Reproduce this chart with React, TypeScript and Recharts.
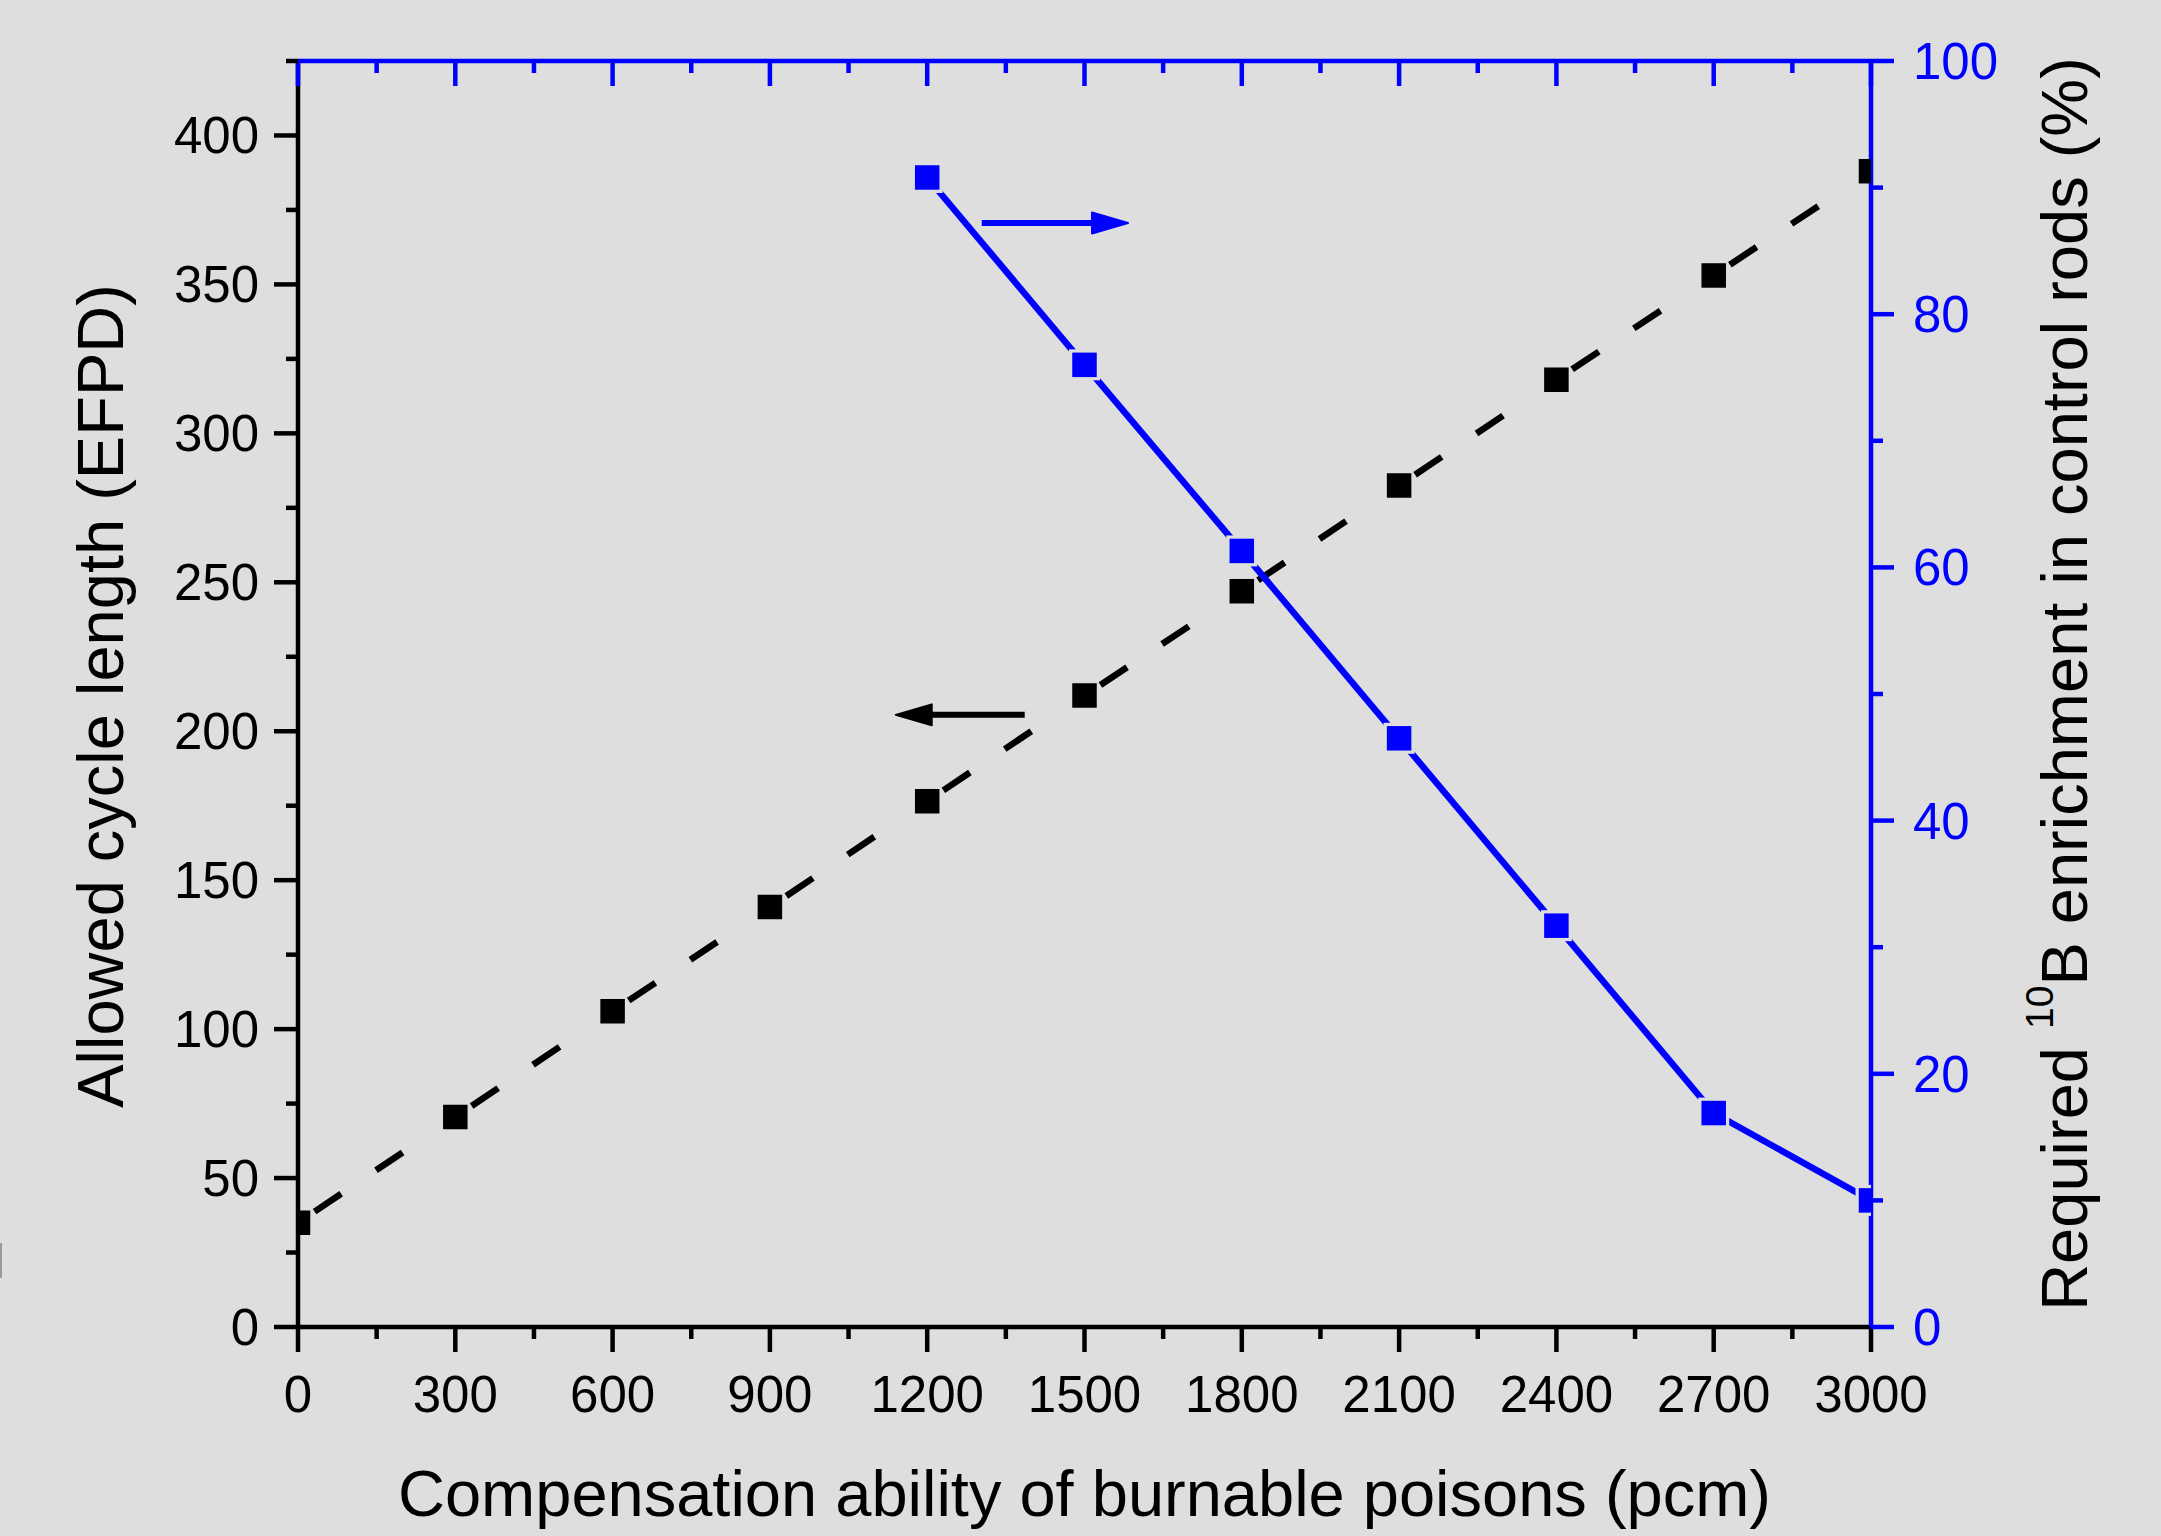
import React from "react";
import { ComposedChart, Line, XAxis, YAxis, ReferenceLine, Label } from "recharts";

// values
const compensation = [0, 300, 600, 900, 1200, 1500, 1800, 2100, 2400, 2700, 3000];
const cycleLength = [35, 70.5, 106, 141, 176.5, 212, 247, 282.5, 318, 353, 388];
const enrichment = [null, null, null, null, 90.8, 76, 61.3, 46.5, 31.7, 16.9, 10];

const xTicks = [
  0, 150, 300, 450, 600, 750, 900, 1050, 1200, 1350, 1500, 1650, 1800, 1950, 2100, 2250, 2400,
  2550, 2700, 2850, 3000,
];
const leftTicks = [
  0, 25, 50, 75, 100, 125, 150, 175, 200, 225, 250, 275, 300, 325, 350, 375, 400, 425,
];
const rightTicks = [0, 10, 20, 30, 40, 50, 60, 70, 80, 90, 100];

// arrows pointing to each series' axis
const leftArrow = [
  { x: 1386, y: 205.5 },
  { x: 1140, y: 205.5 },
];
const rightArrow = [
  { x: 1304, y: 87.2 },
  { x: 1583, y: 87.2 },
];

const rows = compensation.map((c, i) => ({
  c,
  len: cycleLength[i],
  enr: enrichment[i],
}));

const W = 2161;
const H = 1536;
const LEFT_W = 298;
const RIGHT_W = 290;
const TOP_H = 61;
const BOTTOM_H = 209;
const BG = "#dedede";
const BLUE = "#0000ff";
const FONT = "'Liberation Sans', Arial, Helvetica, sans-serif";
const AXIS_W = 4.5;

function BottomTick({ x, y, payload }: any) {
  const major = payload.value % 300 === 0;
  return (
    <g>
      <line x1={x} y1={y} x2={x} y2={y + (major ? 25 : 12)} stroke="#000" strokeWidth={AXIS_W} />
      {major && (
        <text x={x} y={y + 85} textAnchor="middle" fontFamily={FONT} fontSize={51} fill="#000">
          {payload.value}
        </text>
      )}
    </g>
  );
}

function TopTick({ x, y, payload }: any) {
  const major = payload.value % 300 === 0;
  return <line x1={x} y1={y} x2={x} y2={y + (major ? 25 : 12)} stroke={BLUE} strokeWidth={AXIS_W} />;
}

function LeftTick({ x, y, payload }: any) {
  const major = payload.value % 50 === 0;
  return (
    <g>
      <line x1={x} y1={y} x2={x - (major ? 24 : 12)} y2={y} stroke="#000" strokeWidth={AXIS_W} />
      {major && (
        <text x={x - 39} y={y + 18} textAnchor="end" fontFamily={FONT} fontSize={51} fill="#000">
          {payload.value}
        </text>
      )}
    </g>
  );
}

function RightTick({ x, y, payload }: any) {
  const major = payload.value % 20 === 0;
  return (
    <g>
      <line x1={x} y1={y} x2={x + (major ? 23 : 12)} y2={y} stroke={BLUE} strokeWidth={AXIS_W} />
      {major && (
        <text x={x + 42} y={y + 18} textAnchor="start" fontFamily={FONT} fontSize={51} fill={BLUE}>
          {payload.value}
        </text>
      )}
    </g>
  );
}

const arrowShape = (color: string) => (p: any) => {
  const { x1, y1, x2, y2 } = p;
  const dir = x2 > x1 ? 1 : -1;
  const back = x2 - dir * 36;
  return (
    <g>
      <line x1={x1} y1={y1} x2={back + dir * 4} y2={y2} stroke={color} strokeWidth={6} />
      <polygon
        points={`${x2},${y2} ${back},${y2 - 10.5} ${back},${y2 + 10.5}`}
        fill={color}
        stroke={color}
        strokeWidth={2}
        strokeLinejoin="round"
      />
    </g>
  );
};

const blackDot = (p: any) => {
  if (p.cy == null || p.value == null) return <g key={p.index} />;
  return <rect key={p.index} x={p.cx - 12.25} y={p.cy - 12.25} width={24.5} height={24.5} fill="#000" />;
};

const blueDot = (p: any) => {
  if (p.cy == null || p.value == null) return <g key={p.index} />;
  return (
    <g key={p.index}>
      <rect x={p.cx - 15.5} y={p.cy - 15.5} width={31} height={31} fill={BG} />
      <rect x={p.cx - 12.25} y={p.cy - 12.25} width={24.5} height={24.5} fill={BLUE} />
    </g>
  );
};

export default function App() {
  const plotMidY = TOP_H + (H - TOP_H - BOTTOM_H) / 2;
  const plotMidX = LEFT_W + (W - LEFT_W - RIGHT_W) / 2;
  return (
    <div
      style={{
        position: "absolute",
        left: 0,
        top: 0,
        width: W,
        height: H,
        background: BG,
        overflow: "hidden",
      }}
    >
      <div style={{ position: "absolute", left: 0, top: 1243, width: 2, height: 35, background: "#9a9a9a" }} />
      <ComposedChart width={W} height={H} data={rows} margin={{ top: 0, right: 0, bottom: 0, left: 0 }}>
        <XAxis
          dataKey="c"
          type="number"
          domain={[0, 3000]}
          ticks={xTicks}
          interval={0}
          allowDataOverflow
          height={BOTTOM_H}
          tickSize={0}
          tickMargin={0}
          tickLine={false}
          tick={<BottomTick />}
          axisLine={{ stroke: "#000", strokeWidth: AXIS_W }}
        >
          <Label
            content={() => (
              <text x={plotMidX} y={1516} textAnchor="middle" fontFamily={FONT} fontSize={65} fill="#000">
                Compensation ability of burnable poisons (pcm)
              </text>
            )}
          />
        </XAxis>
        <XAxis
          xAxisId="top"
          orientation="top"
          dataKey="c"
          type="number"
          domain={[0, 3000]}
          ticks={xTicks}
          interval={0}
          height={TOP_H}
          tickSize={0}
          tickMargin={0}
          tickLine={false}
          tick={<TopTick />}
          axisLine={{ stroke: BLUE, strokeWidth: AXIS_W }}
        />
        <YAxis
          yAxisId="left"
          type="number"
          domain={[0, 425]}
          ticks={leftTicks}
          interval={0}
          width={LEFT_W}
          tickSize={0}
          tickMargin={0}
          tickLine={false}
          tick={<LeftTick />}
          axisLine={{ stroke: "#000", strokeWidth: AXIS_W }}
        >
          <Label
            content={() => (
              <text
                x={123}
                y={plotMidY + 2}
                transform={`rotate(-90, 123, ${plotMidY + 2})`}
                textAnchor="middle"
                fontFamily={FONT}
                fontSize={65}
                fill="#000"
              >
                Allowed cycle length (EFPD)
              </text>
            )}
          />
        </YAxis>
        <YAxis
          yAxisId="right"
          orientation="right"
          type="number"
          domain={[0, 100]}
          ticks={rightTicks}
          interval={0}
          width={RIGHT_W}
          tickSize={0}
          tickMargin={0}
          tickLine={false}
          tick={<RightTick />}
          axisLine={{ stroke: BLUE, strokeWidth: AXIS_W }}
        >
          <Label
            content={() => (
              <text
                x={2087}
                y={684}
                transform="rotate(-90, 2087, 684)"
                textAnchor="middle"
                fontFamily={FONT}
                fontSize={65}
                fill="#000"
              >
                Required{" "}
                <tspan dy={-34} fontSize={39}>
                  10
                </tspan>
                <tspan dy={34}>B enrichment in control rods (%)</tspan>
              </text>
            )}
          />
        </YAxis>

        <Line
          yAxisId="left"
          type="linear"
          dataKey="len"
          stroke="#000"
          strokeWidth={6.5}
          strokeDasharray="0 20 32 42 32 63.2"
          dot={blackDot}
          activeDot={false}
          isAnimationActive={false}
        />
        <Line
          yAxisId="right"
          type="linear"
          dataKey="enr"
          stroke={BLUE}
          strokeWidth={6.5}
          dot={blueDot}
          activeDot={false}
          isAnimationActive={false}
        />

        <ReferenceLine
          yAxisId="left"
          segment={leftArrow}
          shape={arrowShape("#000")}
          ifOverflow="visible"
        />
        <ReferenceLine
          yAxisId="right"
          segment={rightArrow}
          shape={arrowShape(BLUE)}
          ifOverflow="visible"
        />
      </ComposedChart>
    </div>
  );
}
